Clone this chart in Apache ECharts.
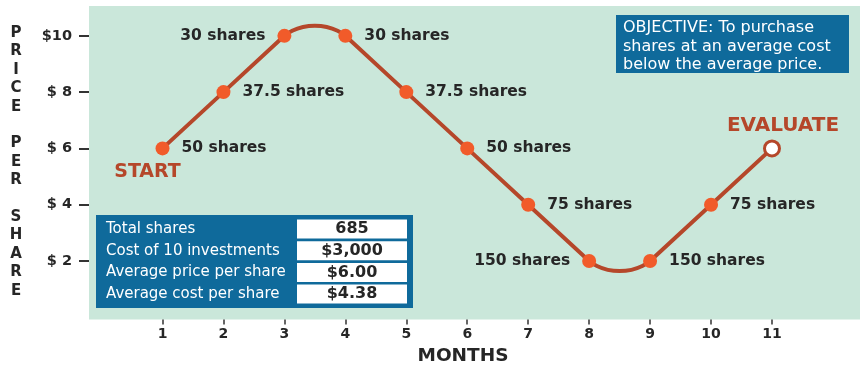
<!DOCTYPE html>
<html><head><meta charset="utf-8">
<script src="https://cdn.jsdelivr.net/npm/echarts@6/dist/echarts.min.js"></script>
<style>html,body{margin:0;padding:0;background:#fff}#c{width:862px;height:368px}</style>
</head><body><div id="c"></div>
<script>
// ---- data ----
const months = [1, 2, 3, 4, 5, 6, 7, 8, 9, 10, 11];
const prices = [6, 8, 10, 10, 8, 6, 4, 2, 2, 4, 6];
const shareLabels = ['50 shares', '37.5 shares', '30 shares', '30 shares', '37.5 shares', '50 shares', '75 shares', '150 shares', '150 shares', '75 shares', ''];
const peakPoint = [3.5, 10.36];
const troughPoint = [8.5, 1.64];
const priceTicks = [2, 4, 6, 8, 10];
const priceTickLabels = ['$ 2', '$ 4', '$ 6', '$ 8', '$10'];
const tableLabels = ['Total shares', 'Cost of 10 investments', 'Average price per share', 'Average cost per share'];
const tableValues = ['685', '$3,000', '$6.00', '$4.38'];
const objectiveLines = ['OBJECTIVE: To purchase', 'shares at an average cost', 'below the average price.'];
const startText = 'START';
const endText = 'EVALUATE';
const yTitle = 'PRICE PER SHARE';
const xTitle = 'MONTHS';

// ---- styling ----
const LINE = '#b5472a';
const DOT = '#f15b2a';
const DARK = '#262626';
const BLUE = '#0f6a9b';
const GREEN = '#cae7da';
const FONT = 'DejaVu Sans';

const pts = months.map((m, i) => [m, prices[i]]);
const leftLabelIdx = [2, 7];
const lineStyle = { color: LINE, width: 4, cap: 'round', join: 'round' };
function straight(a, b) {
  return { type: 'line', data: pts.slice(a, b + 1), symbol: 'none', lineStyle, z: 2, silent: true };
}
function arc(a, mid) {
  return { type: 'line', data: [pts[a], mid, pts[a + 1]], smooth: 0.65, symbol: 'none', lineStyle, z: 2, silent: true };
}

const dotData = pts.map((p, i) => {
  const last = i === pts.length - 1;
  return {
    value: p,
    symbolSize: last ? 15 : 14,
    itemStyle: last ? { color: '#ffffff', borderColor: LINE, borderWidth: 3, opacity: 1 } : { color: DOT, opacity: 1 },
    label: { position: leftLabelIdx.includes(i) ? 'left' : 'right' }
  };
});

const tableGraphics = [];
const tX = 96, tY = 215, tW = 317, tH = 93;
tableGraphics.push({ type: 'rect', shape: { x: tX, y: tY, width: tW, height: tH }, style: { fill: BLUE }, z: 10 });
tableLabels.forEach((lab, i) => {
  const cy = tY + 14 + i * 21.7;
  tableGraphics.push({ type: 'rect', shape: { x: 297, y: cy - 9.5, width: 110, height: 19 }, style: { fill: '#ffffff' }, z: 11 });
  tableGraphics.push({ type: 'text', x: 106, y: cy, style: { text: lab, fill: '#ffffff', font: '15px "' + FONT + '"', textAlign: 'left', textVerticalAlign: 'middle' }, z: 12 });
  tableGraphics.push({ type: 'text', x: 352, y: cy, style: { text: tableValues[i], fill: DARK, font: 'bold 16px "' + FONT + '"', textAlign: 'center', textVerticalAlign: 'middle' }, z: 12 });
});

const option = {
  animation: false,
  backgroundColor: '#ffffff',
  grid: { left: 89, right: 2, top: 6, bottom: 48.5, show: true, backgroundColor: GREEN, borderWidth: 0 },
  xAxis: {
    type: 'value', min: -0.206, max: 12.444,
    axisLine: { show: false, onZero: false }, splitLine: { show: false },
    axisTick: { show: true, customValues: months, length: 5, lineStyle: { color: '#333', width: 1.5 } },
    axisLabel: { customValues: months, margin: 8, color: DARK, fontSize: 14, fontWeight: 'bold', fontFamily: FONT }
  },
  yAxis: {
    type: 'value', min: -0.08, max: 11.06,
    axisLine: { show: false, onZero: false }, splitLine: { show: false },
    axisTick: { show: true, customValues: priceTicks, length: 10, lineStyle: { color: '#333', width: 2 } },
    axisLabel: {
      customValues: priceTicks, margin: 17, color: DARK, fontSize: 14.5, fontWeight: 'bold', fontFamily: FONT,
      formatter: v => priceTickLabels[priceTicks.indexOf(v)]
    }
  },
  series: [
    straight(0, 2), arc(2, peakPoint), straight(3, 7), arc(7, troughPoint), straight(8, 10),
    {
      type: 'scatter', data: dotData, z: 3, silent: true, itemStyle: { opacity: 1 },
      label: {
        show: true, distance: 12, color: DARK, fontSize: 15.5, fontWeight: 'bold', fontFamily: FONT,
        formatter: p => shareLabels[p.dataIndex]
      }
    },
    {
      type: 'scatter', z: 4, silent: true, symbolSize: 1, itemStyle: { color: 'rgba(0,0,0,0)', opacity: 1 },
      data: [
        { value: pts[0], label: { formatter: startText, position: 'bottom', distance: 14, offset: [-15, 0], fontSize: 19 } },
        { value: pts[pts.length - 1], label: { formatter: endText, position: 'top', distance: 12, offset: [11, 0], fontSize: 20 } }
      ],
      label: { show: true, color: LINE, fontWeight: 'bold', fontFamily: FONT }
    }
  ],
  graphic: [
    ...tableGraphics,
    { type: 'rect', shape: { x: 616, y: 15, width: 233, height: 58 }, style: { fill: BLUE }, z: 10 },
    { type: 'text', x: 623, y: 46.5, style: { text: objectiveLines.join('\n'), fill: '#ffffff', font: '16px "' + FONT + '"', lineHeight: 18.5, textAlign: 'left', textVerticalAlign: 'middle' }, z: 12 },
    { type: 'text', x: 16, y: 162, style: { text: yTitle.split('').map(c => c === ' ' ? '' : c).join('\n'), fill: DARK, font: 'bold 15px "' + FONT + '"', lineHeight: 18.4, textAlign: 'center', textVerticalAlign: 'middle' }, z: 12 },
    { type: 'text', x: 463, y: 356, style: { text: xTitle, fill: DARK, font: 'bold 18.5px "' + FONT + '"', textAlign: 'center', textVerticalAlign: 'middle' }, z: 12 }
  ]
};
echarts.init(document.getElementById('c')).setOption(option);
</script></body></html>
